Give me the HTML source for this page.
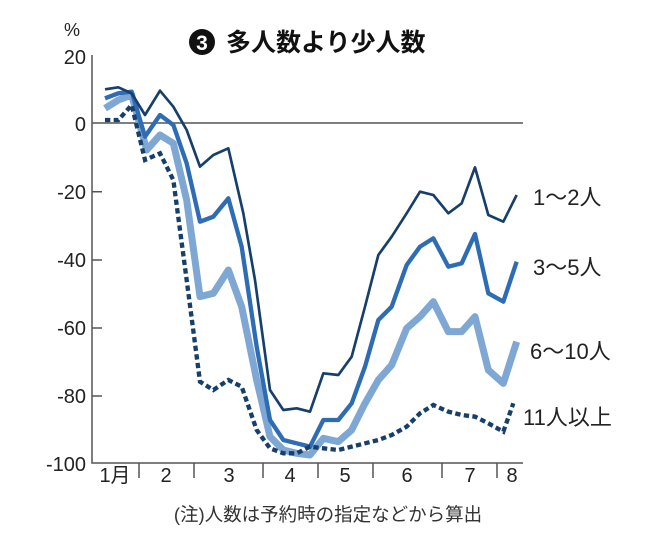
<!DOCTYPE html>
<html><head><meta charset="utf-8"><style>
html,body{margin:0;padding:0;background:#fff;}
svg{display:block;font-family:"Liberation Sans","Noto Sans CJK JP",sans-serif;}
</style></head><body>
<svg width="662" height="534" viewBox="0 0 662 534" xmlns="http://www.w3.org/2000/svg">
<rect width="662" height="534" fill="#fff"/>
<circle cx="202" cy="42" r="13" fill="#111"/>
<text x="202" y="50" font-size="21" font-weight="bold" fill="#fff" text-anchor="middle">3</text>
<text x="226" y="51" font-size="25" font-weight="bold" fill="#111">多人数より少人数</text>
<text x="72" y="36" font-size="18" fill="#222" text-anchor="middle">%</text>
<g font-size="20" fill="#222" text-anchor="end">
<text x="86" y="64">20</text><text x="86" y="131">0</text><text x="86" y="199">-20</text>
<text x="86" y="267">-40</text><text x="86" y="335">-60</text><text x="86" y="403">-80</text>
<text x="86" y="471">-100</text>
</g>
<g stroke="#555" stroke-width="1.5" fill="none">
<line x1="92" y1="123" x2="523" y2="123"/>
<path d="M92 55V463H523"/>
<path d="M92 191.7h10M92 260h10M92 328h10M92 396h10"/>
<path d="M139 463v15M194 463v15M263 463v15M318 463v15M373 463v15M442 463v15M497 463v15"/>
</g>
<g font-size="20" fill="#222" text-anchor="middle">
<text x="115" y="482">1月</text><text x="166" y="482">2</text><text x="229" y="482">3</text>
<text x="290" y="482">4</text><text x="345" y="482">5</text><text x="407" y="482">6</text>
<text x="470" y="482">7</text><text x="512" y="482">8</text>
</g>
<text x="328" y="521" font-size="18.5" fill="#333" text-anchor="middle">(注)人数は予約時の指定などから算出</text>
<g font-size="22" fill="#222">
<text x="533" y="205">1～2人</text><text x="533" y="275">3～5人</text>
<text x="530" y="359">6～10人</text><text x="523" y="425">11人以上</text>
</g>
<g transform="translate(90,80) scale(0.33333)" fill="none" stroke-linejoin="round">
<polyline stroke="#7ea7d4" stroke-width="21" points="45,85 85,60 125,45 170,210 210,165 250,190 290,360 330,650 370,640 415,570 455,680 500,900 540,1070 580,1110 620,1120 660,1125 700,1075 745,1085 785,1050 825,970 865,900 905,855 950,745 990,710 1030,665 1075,755 1115,755 1155,710 1195,870 1240,910 1280,785"/>
<polyline stroke="#2e6db4" stroke-width="13" points="45,55 85,40 125,35 165,170 210,105 250,135 290,250 330,425 370,410 415,355 455,500 500,800 540,1020 580,1080 620,1090 660,1100 700,1020 745,1020 785,970 825,860 865,720 905,680 950,555 990,500 1030,475 1075,560 1115,550 1155,462 1195,640 1240,665 1280,545"/>
<polyline stroke="#173f6b" stroke-width="8" points="45,28 85,22 125,40 165,105 210,32 250,80 290,150 330,260 370,225 415,205 460,400 495,600 540,930 580,990 620,985 660,995 700,880 745,885 785,830 825,680 865,525 905,470 950,400 990,335 1030,345 1075,400 1115,370 1155,262 1195,405 1240,425 1280,345"/>
<polyline stroke="#173f6b" stroke-width="13" stroke-dasharray="16,10" stroke-linejoin="miter" points="45,120 85,120 125,75 165,240 210,220 250,300 290,600 330,905 370,930 415,900 455,920 500,1050 540,1105 580,1120 620,1120 660,1100 700,1105 745,1110 785,1100 825,1090 865,1080 905,1065 950,1040 990,1000 1030,975 1075,995 1115,1005 1155,1010 1195,1030 1240,1055 1270,970"/>
</g>
</svg>
</body></html>
